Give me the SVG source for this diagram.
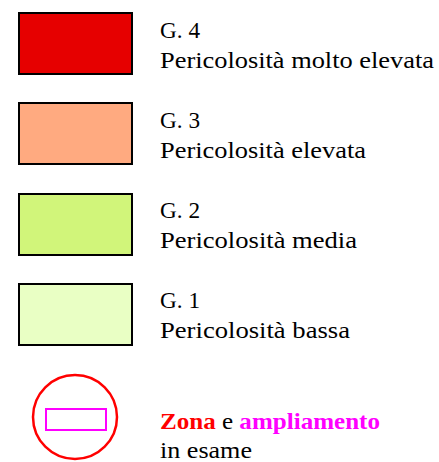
<svg xmlns="http://www.w3.org/2000/svg" width="439" height="462" viewBox="0 0 439 462">
<style>
.sw{stroke:#000;stroke-width:2}
text{font-family:"Liberation Serif","Times New Roman",serif;font-size:24px;fill:#000}
.b{font-weight:bold}
</style>
<rect width="439" height="462" fill="#fff"/>
<g id="g4"><rect class="sw" x="19" y="13" width="113" height="61" fill="#E60000"/><text x="160" y="38" textLength="40" lengthAdjust="spacingAndGlyphs">G. 4</text><text x="160" y="68" textLength="274" lengthAdjust="spacingAndGlyphs">Pericolosità molto elevata</text></g>
<g id="g3"><rect class="sw" x="19" y="103" width="113" height="61" fill="#FFAA80"/><text x="160" y="128" textLength="40" lengthAdjust="spacingAndGlyphs">G. 3</text><text x="160" y="158" textLength="206" lengthAdjust="spacingAndGlyphs">Pericolosità elevata</text></g>
<g id="g2"><rect class="sw" x="19" y="194" width="113" height="61" fill="#D1F57A"/><text x="160" y="218" textLength="40" lengthAdjust="spacingAndGlyphs">G. 2</text><text x="160" y="248" textLength="197" lengthAdjust="spacingAndGlyphs">Pericolosità media</text></g>
<g id="g1"><rect class="sw" x="19" y="284" width="113" height="61" fill="#E9FFC4"/><text x="160" y="308" textLength="40" lengthAdjust="spacingAndGlyphs">G. 1</text><text x="160" y="338" textLength="190" lengthAdjust="spacingAndGlyphs">Pericolosità bassa</text></g>
<g id="zona"><circle cx="75" cy="417" r="42" fill="none" stroke="#FF0000" stroke-width="2.5"/><rect x="46" y="409" width="60" height="21" fill="none" stroke="#FF00FF" stroke-width="2"/>
<text x="160" y="429" textLength="220" lengthAdjust="spacingAndGlyphs"><tspan class="b" fill="#FF0000">Zona</tspan> e <tspan class="b" fill="#FF00FF">ampliamento</tspan></text><text x="160" y="458" textLength="92" lengthAdjust="spacingAndGlyphs">in esame</text></g>
</svg>
